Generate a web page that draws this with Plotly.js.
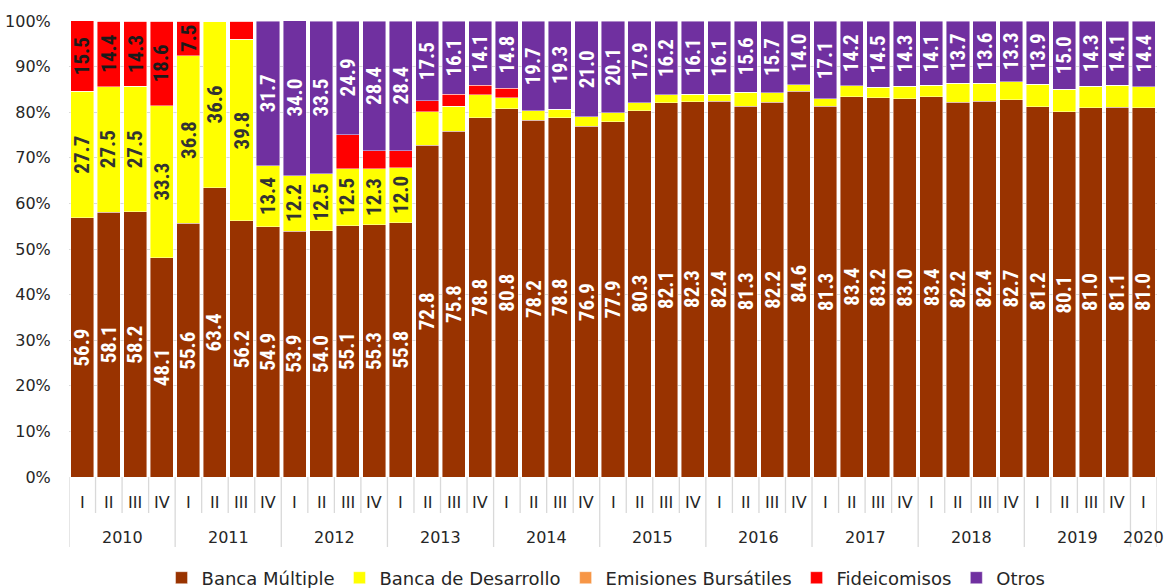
<!DOCTYPE html>
<html>
<head>
<meta charset="utf-8">
<script src="https://cdn.plot.ly/plotly-3.0.1.min.js"></script>
<style>html,body{margin:0;padding:0;background:#fff;}#chart{width:1169px;height:588px;}</style>
</head>
<body>
<div id="chart"></div>
<script>
const years = ["2010","2010","2010","2010","2011","2011","2011","2011","2012","2012","2012","2012",
  "2013","2013","2013","2013","2014","2014","2014","2014","2015","2015","2015","2015",
  "2016","2016","2016","2016","2017","2017","2017","2017","2018","2018","2018","2018",
  "2019","2019","2019","2019","2020"];
const quarters = ["I","II","III","IV","I","II","III","IV","I","II","III","IV",
  "I","II","III","IV","I","II","III","IV","I","II","III","IV",
  "I","II","III","IV","I","II","III","IV","I","II","III","IV",
  "I","II","III","IV","I"];

const bancaMultiple = [56.9,58.1,58.2,48.1,55.6,63.4,56.2,54.9,53.9,54.0,55.1,55.3,
  55.8,72.8,75.8,78.8,80.8,78.2,78.8,76.9,77.9,80.3,82.1,82.3,
  82.4,81.3,82.2,84.6,81.3,83.4,83.2,83.0,83.4,82.2,82.4,82.7,
  81.2,80.1,81.0,81.1,81.0];
const bancaDesarrollo = [27.7,27.5,27.5,33.3,36.8,36.6,39.8,13.4,12.2,12.5,12.5,12.3,
  12.0,7.3,5.5,5.0,2.4,2.1,1.9,2.1,2.0,1.8,1.7,1.6,
  1.5,3.1,2.1,1.4,1.6,2.4,2.3,2.7,2.5,4.1,4.0,4.0,
  4.9,4.9,4.7,4.8,4.6];
const emisiones = [0,0,0,0,0,0,0,0,0,0,0,0,0,0,0,0,0,0,0,0,0,0,0,0,0,0,0,0,0,0,0,0,0,0,0,0,0,0,0,0,0];
const fideicomisos = [15.5,14.4,14.3,18.6,7.5,0,4.0,0,0,0,7.5,4.0,
  3.8,2.4,2.6,2.1,2.0,0,0,0,0,0,0,0,0,0,0,0,0,0,0,0,0,0,0,0,0,0,0,0,0];
const otros = [0,0,0,0,0,0,0,31.7,34.0,33.5,24.9,28.4,
  28.4,17.5,16.1,14.1,14.8,19.7,19.3,21.0,20.1,17.9,16.2,16.1,
  16.1,15.6,15.7,14.0,17.1,14.2,14.5,14.3,14.1,13.7,13.6,13.3,
  13.9,15.0,14.3,14.1,14.4];

// which segments carry a value label in the original
const bdLabeled = [1,1,1,1,1,1,1,1,1,1,1,1,1,0,0,0,0,0,0,0,0,0,0,0,0,0,0,0,0,0,0,0,0,0,0,0,0,0,0,0,0];
const fidLabeled = [1,1,1,1,1,0,0,0,0,0,0,0,0,0,0,0,0,0,0,0,0,0,0,0,0,0,0,0,0,0,0,0,0,0,0,0,0,0,0,0,0];

const cats = years.map((y, i) => y + ' ' + quarters[i]);
const fmt = v => v.toFixed(1);

const series = [
  {name: 'Banca Múltiple', vals: bancaMultiple, color: '#993300', txt: '#ffffff', show: bancaMultiple.map(() => 1)},
  {name: 'Banca de Desarrollo', vals: bancaDesarrollo, color: '#ffff00', txt: '#333333', show: bdLabeled},
  {name: 'Emisiones Bursátiles', vals: emisiones, color: '#f79646', txt: '#333333', show: emisiones.map(() => 0)},
  {name: 'Fideicomisos', vals: fideicomisos, color: '#ff0000', txt: '#1a1a1a', show: fidLabeled},
  {name: 'Otros', vals: otros, color: '#7030a0', txt: '#ffffff', show: otros.map(v => v > 0 ? 1 : 0)}
];

const data = series.map(s => ({
  type: 'bar', name: s.name, x: cats, y: s.vals,
  marker: {color: s.color, line: {color: 'rgba(255,255,255,0.55)', width: 0.8}},
  hoverinfo: 'name+y'
}));

const lblFont = "'Roboto Condensed', Roboto, sans-serif";
const axFont = "'DejaVu Sans', sans-serif";
const annotations = [];
const base = cats.map(() => 0);
series.forEach(s => {
  s.vals.forEach((v, i) => {
    if (s.show[i] && v > 0) {
      annotations.push({
        x: cats[i], y: base[i] + v / 2, xref: 'x', yref: 'y',
        text: fmt(v), textangle: -90, showarrow: false,
        xanchor: 'center', yanchor: 'middle',
        font: {family: lblFont, size: 21, color: s.txt, weight: 'bold'}
      });
    }
    base[i] += v;
  });
});

// x-axis labels: quarters and years
cats.forEach((c, i) => {
  annotations.push({x: c, y: 0, xref: 'x', yref: 'paper', yshift: -25, text: quarters[i],
    showarrow: false, xanchor: 'center', yanchor: 'middle',
    font: {family: axFont, size: 16, color: '#262626'}});
});
const shapes = [];
const plotH = 456;
for (let i = 0; i <= cats.length; i++) {
  const isYearEdge = (i === 0 || i === cats.length || years[i] !== years[i - 1]);
  shapes.push({type: 'line', xref: 'x', yref: 'paper', x0: i - 0.5, x1: i - 0.5,
    y0: 0, y1: isYearEdge ? -70 / plotH : -36 / plotH,
    line: {color: '#d9d9d9', width: 1.3}});
}
const uniqYears = years.filter((y, i) => i === 0 || y !== years[i - 1]);
uniqYears.forEach(y => {
  const idx = years.map((v, i) => v === y ? i : -1).filter(i => i >= 0);
  const mid = (idx[0] + idx[idx.length - 1]) / 2;
  annotations.push({x: mid, y: 0, xref: 'x', yref: 'paper', yshift: -60, text: y,
    showarrow: false, xanchor: 'center', yanchor: 'middle',
    font: {family: axFont, size: 16, color: '#262626'}});
});

const layout = {
  width: 1169, height: 588,
  margin: {l: 69, r: 12, t: 21, b: 111, autoexpand: false},
  barmode: 'stack', bargap: 0.13,
  paper_bgcolor: '#ffffff', plot_bgcolor: '#ffffff',
  font: {family: axFont, color: '#262626', size: 15},
  showlegend: true,
  legend: {orientation: 'h', x: 0.4936, xanchor: 'center', y: -101 / plotH, yanchor: 'middle',
    font: {family: axFont, size: 18, color: '#262626'}, itemwidth: 30, traceorder: 'normal'},
  xaxis: {
    type: 'category', range: [-0.5, cats.length - 0.5], showgrid: false, zeroline: false,
    showline: false, ticks: '', showticklabels: false, fixedrange: true
  },
  yaxis: {
    range: [0, 100], dtick: 10, ticksuffix: '%', showgrid: true, gridcolor: '#d9d9d9',
    zeroline: false, showline: false, ticks: 'outside', ticklen: 14, tickcolor: 'rgba(0,0,0,0)',
    fixedrange: true, tickfont: {family: axFont, size: 16, color: '#262626'}
  },
  annotations: annotations,
  shapes: shapes
};

Plotly.newPlot('chart', data, layout, {displayModeBar: false, staticPlot: true});
</script>
</body>
</html>
